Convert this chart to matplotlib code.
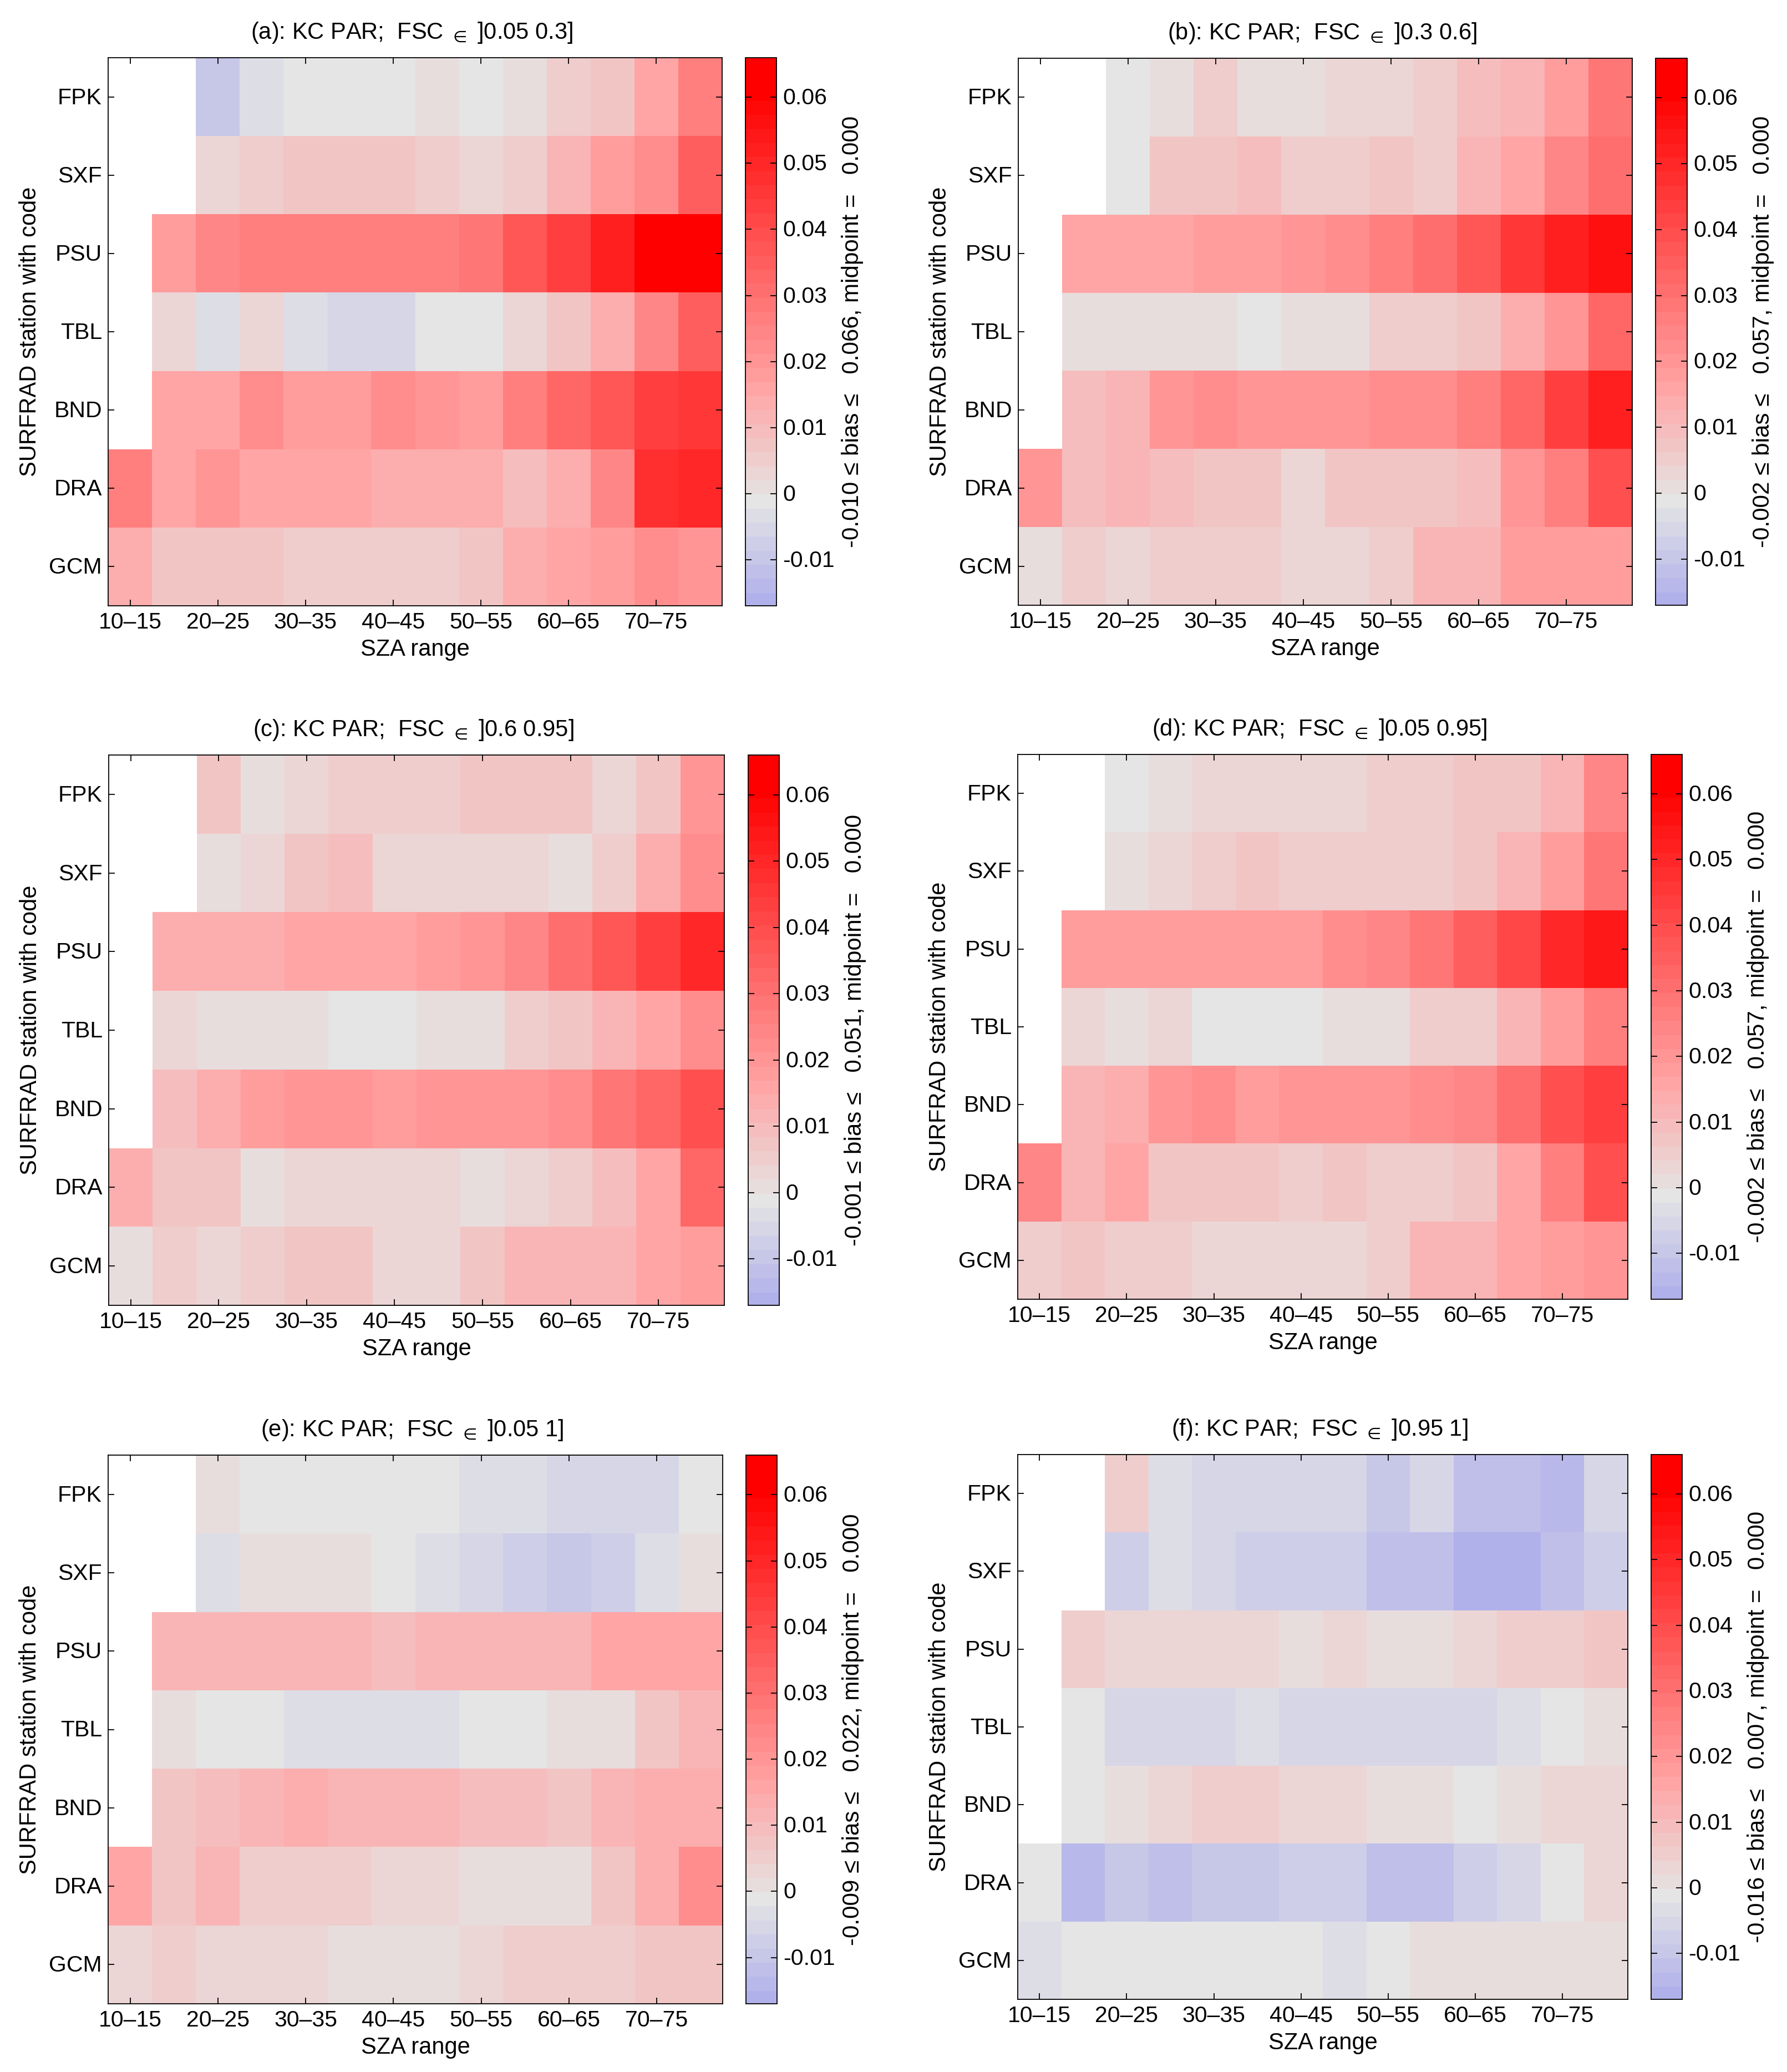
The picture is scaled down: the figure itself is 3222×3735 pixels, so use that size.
import numpy as np
import matplotlib
matplotlib.use("Agg")
import matplotlib.pyplot as plt
from matplotlib.colors import LinearSegmentedColormap, Normalize
from matplotlib.cm import ScalarMappable
from matplotlib.transforms import ScaledTranslation

plt.rcParams['font.family'] = ['Liberation Sans', 'DejaVu Sans']
plt.rcParams['mathtext.fontset'] = 'dejavusans'

stations = ['FPK', 'SXF', 'PSU', 'TBL', 'BND', 'DRA', 'GCM']
sza_labels = ['10–15', '20–25', '30–35', '40–45', '50–55', '60–65', '70–75']
n = np.nan

bias_a = [
    [n, n, -.009, -.003, -.001, -.001, -.001, .001, -.001, .002, .005, .007, .016, .027],
    [n, n, .003, .005, .008, .008, .007, .005, .004, .005, .011, .018, .022, .036],
    [n, .019, .024, .026, .026, .026, .026, .027, .029, .037, .043, .053, .066, .066],
    [n, .004, -.003, .003, -.003, -.005, -.005, -.001, -.001, .003, .008, .014, .024, .036],
    [n, .017, .017, .022, .019, .019, .023, .020, .019, .027, .032, .038, .044, .045],
    [.026, .015, .021, .017, .015, .015, .013, .013, .013, .010, .013, .024, .047, .050],
    [.013, .007, .007, .007, .005, .005, .005, .005, .008, .014, .016, .018, .023, .020],
]
bias_b = [
    [n, n, -.001, .002, .005, .002, .002, .003, .003, .005, .009, .011, .019, .028],
    [n, n, -.001, .007, .007, .009, .005, .005, .008, .005, .012, .015, .024, .030],
    [n, .015, .017, .017, .019, .019, .020, .023, .026, .030, .038, .045, .053, .056],
    [n, .002, .002, .002, .002, -.001, .001, .001, .005, .006, .008, .014, .020, .034],
    [n, .009, .012, .021, .022, .020, .021, .021, .023, .023, .026, .033, .043, .053],
    [.021, .009, .012, .009, .007, .007, .003, .007, .007, .008, .010, .021, .026, .040],
    [.002, .005, .003, .005, .005, .005, .003, .004, .006, .012, .012, .018, .019, .019],
]
bias_c = [
    [n, n, .008, .001, .003, .005, .005, .005, .007, .007, .007, .004, .008, .020],
    [n, n, .002, .003, .007, .009, .004, .003, .003, .003, .001, .005, .014, .022],
    [n, .014, .014, .014, .016, .016, .016, .018, .020, .025, .031, .038, .043, .049],
    [n, .003, .002, .002, .002, -.001, -.001, .002, .002, .005, .007, .011, .016, .022],
    [n, .009, .013, .019, .021, .021, .019, .020, .020, .020, .023, .029, .034, .040],
    [.014, .007, .007, .001, .003, .003, .003, .003, .001, .003, .005, .009, .017, .032],
    [.002, .005, .003, .005, .007, .007, .004, .004, .007, .011, .011, .012, .015, .019],
]
bias_d = [
    [n, n, -.001, .001, .003, .003, .003, .003, .005, .005, .0075, .0075, .012, .024],
    [n, n, .002, .004, .006, .008, .005, .005, .005, .005, .007, .011, .018, .029],
    [n, .018, .018, .018, .018, .018, .018, .023, .025, .029, .036, .041, .050, .054],
    [n, .003, .002, .003, -.001, -.001, -.001, .001, .001, .005, .006, .012, .018, .027],
    [n, .011, .013, .020, .022, .0185, .020, .020, .020, .022, .025, .031, .039, .044],
    [.024, .011, .015, .008, .008, .008, .006, .007, .006, .006, .008, .016, .026, .040],
    [.005, .007, .005, .006, .004, .004, .004, .004, .006, .012, .012, .015, .019, .020],
]
bias_e = [
    [n, n, .001, -.001, -.001, -.001, -.001, -.001, -.004, -.004, -.005, -.005, -.005, -.001],
    [n, n, -.004, .001, .001, .001, -.001, -.003, -.005, -.007, -.009, -.007, -.003, .002],
    [n, .011, .011, .011, .011, .011, .009, .011, .011, .011, .011, .015, .016, .016],
    [n, .002, -.001, -.001, -.003, -.003, -.003, -.003, -.001, -.001, .001, .002, .007, .011],
    [n, .008, .010, .012, .014, .012, .012, .012, .010, .010, .008, .012, .013, .013],
    [.017, .007, .011, .005, .005, .005, .003, .003, .002, .002, .002, .007, .013, .022],
    [.003, .005, .003, .003, .003, .001, .001, .001, .003, .005, .005, .005, .007, .007],
]
bias_f = [
    [n, n, .005, -.003, -.005, -.005, -.005, -.005, -.009, -.005, -.011, -.011, -.014, -.005],
    [n, n, -.007, -.003, -.005, -.007, -.007, -.007, -.011, -.011, -.016, -.016, -.012, -.008],
    [n, .006, .003, .003, .003, .003, .002, .004, .002, .002, .003, .005, .005, .008],
    [n, -.001, -.005, -.005, -.005, -.003, -.005, -.005, -.005, -.005, -.005, -.003, -.001, .002],
    [n, -.001, .002, .003, .006, .006, .004, .004, .002, .002, -.001, .002, .004, .004],
    [-.001, -.013, -.010, -.012, -.010, -.010, -.008, -.008, -.011, -.011, -.007, -.005, -.001, .004],
    [-.003, -.001, -.001, -.001, -.001, -.001, -.001, -.003, -.001, .001, .001, .001, .001, .001],
]

IN = r'$_{\in}$'
titles = ['(a): KC PAR;  FSC ' + IN + ' ]0.05 0.3]',
          '(b): KC PAR;  FSC ' + IN + ' ]0.3 0.6]',
          '(c): KC PAR;  FSC ' + IN + ' ]0.6 0.95]',
          '(d): KC PAR;  FSC ' + IN + ' ]0.05 0.95]',
          '(e): KC PAR;  FSC ' + IN + ' ]0.05 1]',
          '(f): KC PAR;  FSC ' + IN + ' ]0.95 1]']
ranges = [('-0.010', '0.066'), ('-0.002', '0.057'), ('-0.001', '0.051'),
          ('-0.002', '0.057'), ('-0.009', '0.022'), ('-0.016', '0.007')]
panels = [bias_a, bias_b, bias_c, bias_d, bias_e, bias_f]
cbar_ticks = [-0.01, 0, 0.01, 0.02, 0.03, 0.04, 0.05, 0.06]
cbar_ticklabels = ['-0.01', '0', '0.01', '0.02', '0.03', '0.04', '0.05', '0.06']

VMIN, VMAX = -0.017, 0.066
W, H = 3222, 3735
# pixel boxes: axes left, right, top, bottom, colorbar left, right
boxes = [(195, 1302, 104, 1092, 1344, 1400),
         (1836, 2943, 105, 1091, 2985, 3042),
         (196, 1306, 1361, 2353, 1349, 1405),
         (1835, 2935, 1360, 2342, 2977, 3033),
         (195, 1303, 2623, 3612, 1345, 1401),
         (1835, 2935, 2622, 3604, 2977, 3033)]

cmap = LinearSegmentedColormap.from_list(
    'bias',
    [(0.0, (176/255, 176/255, 235/255)),
     (7/38, (229/255, 229/255, 229/255)),
     (15/38, (1.0, 165/255, 165/255)),
     (36/38, (1.0, 0.0, 0.0)),
     (1.0, (1.0, 0.0, 0.0))], N=39)
cmap.set_bad('white')
norm = Normalize(VMIN, VMAX)

FS = 29.5
LFS = 30
CFS = 30.3
TL = 8
LW = 1.3
fig = plt.figure(figsize=(W/100, H/100), dpi=100)
nudge_up = ScaledTranslation(0, 2/100, fig.dpi_scale_trans)


def px_axes(l, r, t, b):
    return fig.add_axes([l/W, 1 - b/H, (r-l)/W, (b-t)/H])


for data, title, (lo, hi), box in zip(panels, titles, ranges, boxes):
    l, r, t, b, cl, cr = box
    ax = px_axes(l, r, t, b)
    arr = np.ma.masked_invalid(np.array(data, dtype=float))
    ny, nx = arr.shape
    ax.pcolormesh(np.arange(nx + 1), np.arange(ny + 1), arr, cmap=cmap, norm=norm,
                  edgecolors='none', antialiased=False)
    ax.set_ylim(ny, 0)
    ax.set_xlim(0, nx)
    ax.set_xticks(np.arange(len(sza_labels)) * 2 + 0.5)
    ax.set_xticklabels(sza_labels, fontsize=FS)
    ax.set_yticks(np.arange(ny) + 0.5)
    ax.set_yticklabels(stations, fontsize=FS)
    ax.tick_params(direction='in', length=TL, width=LW, top=True, right=True, pad=8)
    for lab in ax.get_yticklabels():
        lab.set_transform(lab.get_transform() + nudge_up)
    ax.set_xlabel('SZA range', fontsize=LFS, labelpad=7)
    ax.set_ylabel('SURFRAD station with code', fontsize=LFS, labelpad=10)
    ax.set_title(title, fontsize=LFS, pad=24.5, x=0.495)
    for s in ax.spines.values():
        s.set_linewidth(LW)

    cax = px_axes(cl, cr, t, b)
    cb = fig.colorbar(ScalarMappable(norm=norm, cmap=cmap), cax=cax, ticks=cbar_ticks)
    cb.ax.set_yticklabels(cbar_ticklabels, fontsize=FS)
    cb.ax.tick_params(direction='in', length=TL, width=LW, left=True, right=True, pad=8)
    for lab in cb.ax.get_yticklabels():
        lab.set_transform(lab.get_transform() + nudge_up)
    cb.outline.set_linewidth(LW)
    cb.solids.set_edgecolor('face')
    label = f'{lo} ≤ bias ≤   {hi}, midpoint =   0.000'
    fig.text((cr + 137)/W, 1 - (t + b)/2/H, label, rotation=90, fontsize=CFS,
             ha='center', va='center')

fig.savefig('out.png', dpi=100, facecolor='white')
